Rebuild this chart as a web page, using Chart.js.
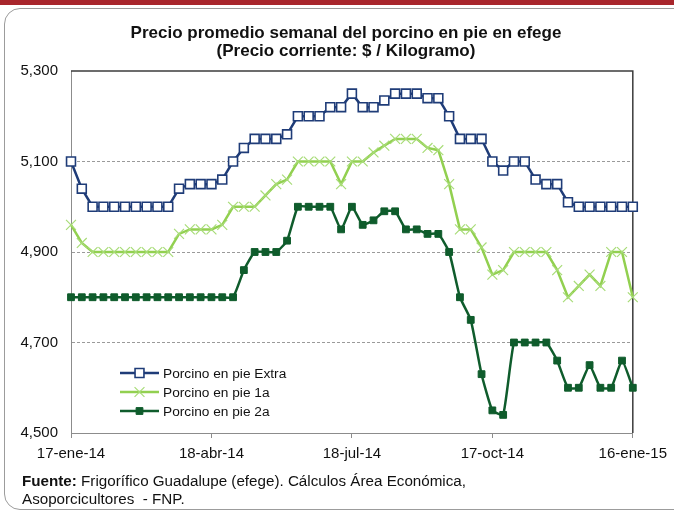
<!DOCTYPE html>
<html lang="es">
<head>
<meta charset="utf-8">
<title>Precio promedio semanal del porcino en pie en efege</title>
<script src="https://cdn.jsdelivr.net/npm/chart.js@4.4.1/dist/chart.umd.min.js"></script>
<style>
    body { margin: 0; background: #fff; }
    #wrap { position: relative; width: 674px; height: 512px; overflow: hidden; background: #fff; }
    .topbar { position: absolute; left: 0; top: 0; width: 674px; height: 5px; background: #a8262c; }
    .frame { position: absolute; left: 4px; top: 8px; width: 690px; height: 500px; border: 1px solid #9c9c9c; border-radius: 16px; }
    .txt { font-family: 'Liberation Sans Narrow', 'Arial Narrow', 'Liberation Sans', Arial, sans-serif; color: #111; position: absolute; }
    .title { left: 46px; width: 600px; top: 24px; text-align: center; font-weight: bold; font-size: 17px; line-height: 18px; }
    .note { left: 22px; top: 472px; font-size: 15.2px; line-height: 18px; }
    canvas { position: absolute; left: 0; top: 0; }
</style>
</head>
<body>
<div id="wrap">
    <div class="topbar"></div>
    <div class="frame"></div>
    <canvas id="chart" width="674" height="512"></canvas>
    <div class="txt title">Precio promedio semanal del porcino en pie en efege<br>(Precio corriente: $ / Kilogramo)</div>
    <div class="txt note"><b>Fuente:</b> Frigorífico Guadalupe (efege). Cálculos Área Económica,<br>Asoporcicultores&nbsp; - FNP.</div>
</div>
<script>
// ====== datos ======
const WEEKS = [
    '17-ene-14', '24-ene-14', '31-ene-14', '7-feb-14', '14-feb-14', '21-feb-14', '28-feb-14',
    '7-mar-14', '14-mar-14', '21-mar-14', '28-mar-14', '4-abr-14', '11-abr-14', '18-abr-14',
    '25-abr-14', '2-may-14', '9-may-14', '16-may-14', '23-may-14', '30-may-14', '6-jun-14',
    '13-jun-14', '20-jun-14', '27-jun-14', '4-jul-14', '11-jul-14', '18-jul-14', '25-jul-14',
    '1-ago-14', '8-ago-14', '15-ago-14', '22-ago-14', '29-ago-14', '5-sep-14', '12-sep-14',
    '19-sep-14', '26-sep-14', '3-oct-14', '10-oct-14', '17-oct-14', '24-oct-14', '31-oct-14',
    '7-nov-14', '14-nov-14', '21-nov-14', '28-nov-14', '5-dic-14', '12-dic-14', '19-dic-14',
    '26-dic-14', '2-ene-15', '9-ene-15', '16-ene-15',
];
const TICK_LABELS = ['17-ene-14', '18-abr-14', '18-jul-14', '17-oct-14', '16-ene-15'];

const EXTRA = [
    5100, 5040, 5000, 5000, 5000, 5000, 5000, 5000, 5000, 5000, 5040, 5050, 5050, 5050,
    5060, 5100, 5130, 5150, 5150, 5150, 5160, 5200, 5200, 5200, 5220, 5220, 5250, 5220,
    5220, 5235, 5250, 5250, 5250, 5240, 5240, 5200, 5150, 5150, 5150, 5100, 5080, 5100,
    5100, 5060, 5050, 5050, 5010, 5000, 5000, 5000, 5000, 5000, 5000,
];
const PRIMERA = [
    4960, 4920, 4900, 4900, 4900, 4900, 4900, 4900, 4900, 4900, 4940, 4950, 4950, 4950,
    4960, 5000, 5000, 5000, 5025, 5050, 5060, 5100, 5100, 5100, 5100, 5050, 5100, 5100,
    5120, 5135, 5150, 5150, 5150, 5130, 5125, 5050, 4950, 4950, 4910, 4850, 4860, 4900,
    4900, 4900, 4900, 4860, 4800, 4825, 4850, 4825, 4900, 4900, 4800,
];
const SEGUNDA = [
    4800, 4800, 4800, 4800, 4800, 4800, 4800, 4800, 4800, 4800, 4800, 4800, 4800, 4800,
    4800, 4800, 4860, 4900, 4900, 4900, 4925, 5000, 5000, 5000, 5000, 4950, 5000, 4960,
    4970, 4990, 4990, 4950, 4950, 4940, 4940, 4900, 4800, 4750, 4630, 4550, 4540, 4700,
    4700, 4700, 4700, 4660, 4600, 4600, 4650, 4600, 4600, 4660, 4600,
];
const SERIES_NAMES = ['Porcino en pie Extra', 'Porcino en pie 1a', 'Porcino en pie 2a'];

// ====== estilo ======
const FONT = "'Liberation Sans Narrow', 'Arial Narrow', 'Liberation Sans', Arial, sans-serif";
const NAVY = '#1f3c78';
const LIGHT = '#92d050';
const DARK = '#0f5c2c';

// leyenda dentro del área del gráfico
const insideLegend = {
    id: 'insideLegend',
    afterDraw(chart) {
        const ctx = chart.ctx;
        const rows = [373, 392, 411];
        chart.data.datasets.forEach((ds, i) => {
            const y = rows[i];
            ctx.save();
            ctx.strokeStyle = ds.borderColor;
            ctx.lineWidth = ds.borderWidth;
            ctx.beginPath();
            ctx.moveTo(120, y);
            ctx.lineTo(159, y);
            ctx.stroke();
            ctx.fillStyle = ds.pointBackgroundColor;
            ctx.strokeStyle = ds.pointBorderColor;
            ctx.lineWidth = ds.pointBorderWidth;
            Chart.helpers.drawPoint(ctx, { pointStyle: ds.pointStyle, radius: ds.pointRadius, rotation: 0, borderWidth: ds.pointBorderWidth }, 139.5, y);
            ctx.fillStyle = '#111';
            ctx.font = '13.7px ' + FONT;
            ctx.textBaseline = 'middle';
            ctx.fillText(ds.label, 163, y + 1);
            ctx.restore();
        });
    },
};

// marco superior y derecho del área de trazado
const plotFrame = {
    id: 'plotFrame',
    beforeDatasetsDraw(chart) {
        const { ctx, chartArea: a } = chart;
        ctx.save();
        ctx.strokeStyle = '#3c3c3c';
        ctx.lineWidth = 1.5;
        ctx.beginPath();
        ctx.moveTo(a.left, a.top);
        ctx.lineTo(a.right, a.top);
        ctx.lineTo(a.right, a.bottom);
        ctx.stroke();
        ctx.restore();
    },
};

new Chart(document.getElementById('chart'), {
    type: 'line',
    data: {
        labels: WEEKS,
        datasets: [
            {
                label: SERIES_NAMES[0], data: EXTRA,
                borderColor: NAVY, borderWidth: 2.5,
                pointStyle: 'rect', pointRadius: 6.3,
                pointBackgroundColor: '#fff', pointBorderColor: NAVY, pointBorderWidth: 1.6,
            },
            {
                label: SERIES_NAMES[1], data: PRIMERA,
                borderColor: LIGHT, borderWidth: 2.5,
                pointStyle: 'crossRot', pointRadius: 7,
                pointBackgroundColor: 'rgba(0,0,0,0)', pointBorderColor: '#a8dc78', pointBorderWidth: 1.2,
            },
            {
                label: SERIES_NAMES[2], data: SEGUNDA,
                borderColor: DARK, borderWidth: 2.5, tension: 0.15,
                pointStyle: 'rect', pointRadius: 4.8,
                pointBackgroundColor: DARK, pointBorderColor: DARK, pointBorderWidth: 1,
            },
        ],
    },
    options: {
        responsive: false,
        animation: false,
        layout: { padding: { left: 0, right: 40, top: 71, bottom: 0 } },
        plugins: { legend: { display: false }, tooltip: { enabled: false } },
        scales: {
            x: {
                offset: false,
                afterFit: (s) => { s.height = 79; },
                grid: {
                    drawOnChartArea: false,
                    tickLength: 5,
                    color: (c) => TICK_LABELS.includes(WEEKS[c.index]) ? '#8c8c8c' : 'rgba(0,0,0,0)',
                },
                border: { color: '#8c8c8c', width: 1 },
                ticks: {
                    autoSkip: false, maxRotation: 0, padding: 7,
                    color: '#111', font: { family: FONT, size: 15 },
                    callback: (v, i) => TICK_LABELS.includes(WEEKS[i]) ? WEEKS[i] : '',
                },
            },
            y: {
                min: 4500, max: 5300,
                afterFit: (s) => { s.width = 71; },
                grid: {
                    drawTicks: false,
                    color: (c) => [4700, 4900, 5100].includes(c.tick && c.tick.value) ? '#9a9a9a' : 'rgba(0,0,0,0)',
                },
                border: { color: '#8c8c8c', width: 1, dash: [3, 2] },
                ticks: {
                    stepSize: 200, padding: 13,
                    color: '#111', font: { family: FONT, size: 15 },
                    callback: (v) => v.toLocaleString('en-US'),
                },
            },
        },
    },
    plugins: [plotFrame, insideLegend],
});
</script>
</body>
</html>
